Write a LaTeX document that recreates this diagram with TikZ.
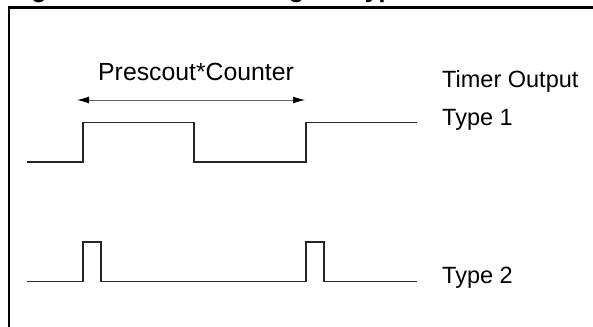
\documentclass[tikz,border=0pt]{standalone}
\usepackage{fontspec}
\setmainfont{Liberation Sans}
\usetikzlibrary{arrows.meta}
\tikzset{
  wave/.style={line width=1.1pt, draw=black!85, line join=miter},
  frame/.style={line width=2.5pt, draw=black},
  lbl/.style={inner sep=0pt, anchor=base west, font=\fontsize{23.5}{27}\selectfont},
  spanarrow/.style={line width=1pt, draw=black!60, {Latex[length=12pt,width=7pt,black]}-{Latex[length=12pt,width=7pt,black]}},
  titlelbl/.style={inner sep=0pt, anchor=base west, font=\fontsize{25}{29}\selectfont\bfseries}
}
\begin{document}
\begin{tikzpicture}[x=1pt,y=-1pt]
\useasboundingbox (0,0) rectangle (593,326);
\begin{scope}
\clip (0,0) rectangle (593,326);
% title (clipped at the top of the picture, as in the reference)
\node[titlelbl] (title) at (9,-2.5) {Figure 6-2. Timer Setting for Types};
% frame
\draw[frame] (9,7.5) rectangle (640,360);
\end{scope}
% span arrow
\coordinate (aL) at (77,100);
\coordinate (aR) at (305,100);
\draw[spanarrow] (aL) -- (aR);
\node[lbl, font=\fontsize{24.8}{28}\selectfont] (pc) at (98,81) {Prescout*Counter};
% labels
\node[lbl] (out) at (442,88) {Timer Output};
\node[lbl] (t1) at (442,125) {Type 1};
\node[lbl] (t2) at (442,283) {Type 2};
% Type 1 waveform
\draw[wave] (27,162) -- (83,162) -- (83,122.5) -- (194,122.5) -- (194,162)
  -- (306,162) -- (306,122.5) -- (417,122.5);
% Type 2 waveform
\draw[wave] (27,281.5) -- (83,281.5) -- (83,242) -- (101,242) -- (101,281.5)
  -- (306,281.5) -- (306,242) -- (324,242) -- (324,281.5) -- (417,281.5);
\end{tikzpicture}
\end{document}
